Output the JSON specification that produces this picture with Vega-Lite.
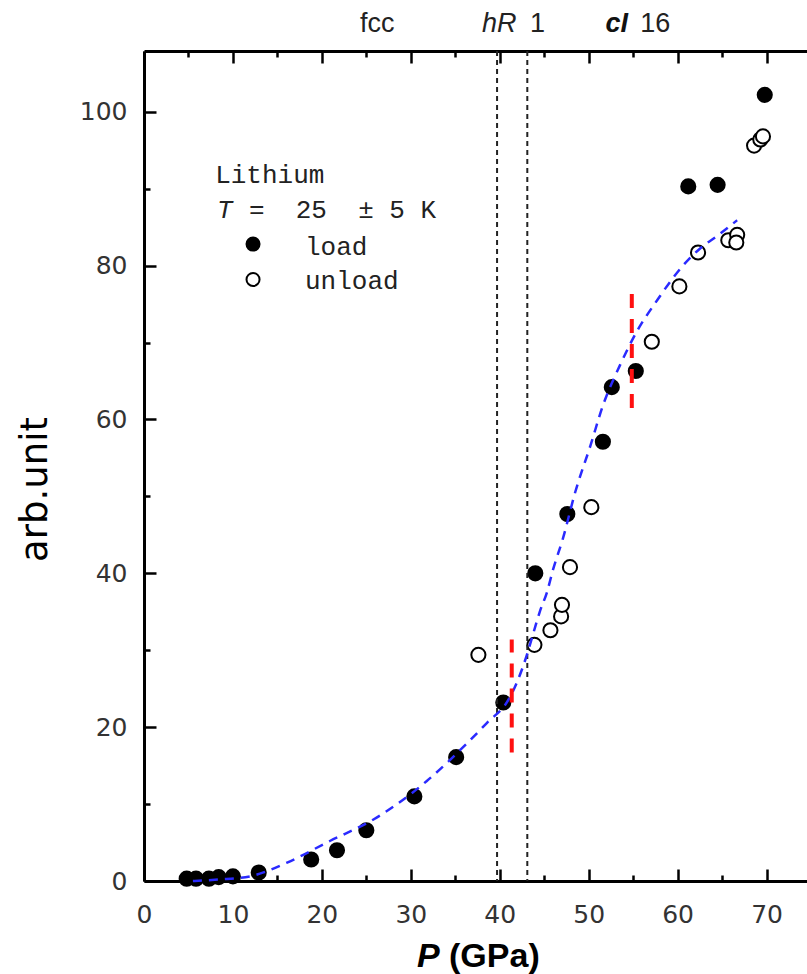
{
  "$schema": "https://vega.github.io/schema/vega-lite/v6.json",
  "width": 667,
  "height": 830,
  "autosize": {"type": "none"},
  "padding": {"left": 144, "top": 51, "right": 0, "bottom": 93},
  "background": "white",
  "config": {"view": {"stroke": null}, "axis": {"grid": false}},
  "datasets": {
    "pts": [
      {"P": 4.8, "v": 0.3, "series": "load"},
      {"P": 5.85, "v": 0.3, "series": "load"},
      {"P": 7.3, "v": 0.3, "series": "load"},
      {"P": 8.4, "v": 0.5, "series": "load"},
      {"P": 10.0, "v": 0.6, "series": "load"},
      {"P": 12.9, "v": 1.1, "series": "load"},
      {"P": 18.8, "v": 2.8, "series": "load"},
      {"P": 21.7, "v": 4.0, "series": "load"},
      {"P": 25.0, "v": 6.6, "series": "load"},
      {"P": 30.4, "v": 11.0, "series": "load"},
      {"P": 35.1, "v": 16.1, "series": "load"},
      {"P": 40.4, "v": 23.2, "series": "load"},
      {"P": 44.0, "v": 40.0, "series": "load"},
      {"P": 47.6, "v": 47.7, "series": "load"},
      {"P": 51.6, "v": 57.1, "series": "load"},
      {"P": 52.6, "v": 64.2, "series": "load"},
      {"P": 55.3, "v": 66.3, "series": "load"},
      {"P": 61.2, "v": 90.3, "series": "load"},
      {"P": 64.5, "v": 90.5, "series": "load"},
      {"P": 69.8, "v": 102.2, "series": "load"},
      {"P": 37.6, "v": 29.4, "series": "unload"},
      {"P": 43.9, "v": 30.7, "series": "unload"},
      {"P": 45.7, "v": 32.6, "series": "unload"},
      {"P": 46.9, "v": 34.4, "series": "unload"},
      {"P": 47.0, "v": 35.9, "series": "unload"},
      {"P": 47.9, "v": 40.8, "series": "unload"},
      {"P": 50.3, "v": 48.6, "series": "unload"},
      {"P": 57.1, "v": 70.1, "series": "unload"},
      {"P": 60.2, "v": 77.3, "series": "unload"},
      {"P": 62.3, "v": 81.7, "series": "unload"},
      {"P": 65.7, "v": 83.3, "series": "unload"},
      {"P": 66.7, "v": 84.0, "series": "unload"},
      {"P": 66.6, "v": 83.0, "series": "unload"},
      {"P": 68.6, "v": 95.6, "series": "unload"},
      {"P": 69.3, "v": 96.4, "series": "unload"},
      {"P": 69.6, "v": 96.8, "series": "unload"}
    ],
    "legsym": [
      {"P": 12.26, "v": 82.8, "series": "load"},
      {"P": 12.26, "v": 78.2, "series": "unload"}
    ],
    "fit": [
      {"P": 5.5, "v": 0.0},
      {"P": 8.5, "v": 0.2},
      {"P": 11.9, "v": 0.6},
      {"P": 16.1, "v": 2.4},
      {"P": 20.9, "v": 5.2},
      {"P": 25.8, "v": 8.0},
      {"P": 31.8, "v": 13.0},
      {"P": 36.4, "v": 18.0},
      {"P": 38.6, "v": 20.6},
      {"P": 41.0, "v": 23.6},
      {"P": 42.0, "v": 26.0},
      {"P": 43.0, "v": 29.2},
      {"P": 43.8, "v": 32.3},
      {"P": 44.5, "v": 35.0},
      {"P": 45.3, "v": 37.5},
      {"P": 46.0, "v": 40.5},
      {"P": 47.1, "v": 44.5},
      {"P": 48.5, "v": 50.6},
      {"P": 50.2, "v": 56.6},
      {"P": 51.6, "v": 61.8},
      {"P": 53.5, "v": 67.0},
      {"P": 55.4, "v": 71.4},
      {"P": 57.7, "v": 75.5},
      {"P": 60.6, "v": 80.0},
      {"P": 62.5, "v": 82.2},
      {"P": 64.5, "v": 83.9},
      {"P": 66.7, "v": 85.9}
    ],
    "red": [
      {"P": 41.35, "v1": 16.7, "v2": 31.4},
      {"P": 54.85, "v1": 61.5, "v2": 77.6}
    ],
    "phase": [{"P": 39.7}, {"P": 43.1}],
    "notes": [
      {"P": 24.3, "v": 110.4, "txt": "fcc", "kind": "top"},
      {"P": 38.0, "v": 110.4, "txt": "hR", "kind": "topital"},
      {"P": 43.4, "v": 110.4, "txt": "1", "kind": "top"},
      {"P": 51.9, "v": 110.4, "txt": "cI", "kind": "topbi"},
      {"P": 55.8, "v": 110.4, "txt": "16", "kind": "top"},
      {"P": 8.0, "v": 90.7, "txt": "Lithium", "kind": "mono"},
      {"P": 8.2, "v": 86.2, "txt": "T", "kind": "monoital"},
      {"P": 11.8, "v": 86.2, "txt": "=\u00a0\u00a025\u00a0\u00a0±\u00a05\u00a0K", "kind": "mono"},
      {"P": 18.1, "v": 81.4, "txt": "load", "kind": "mono"},
      {"P": 18.1, "v": 76.9, "txt": "unload", "kind": "mono"},
      {"P": 30.7, "v": -11.2, "txt": "P", "kind": "titlebi"},
      {"P": 34.3, "v": -11.2, "txt": "(GPa)", "kind": "titleb"}
    ]
  },
  "layer": [
    {
      "data": {"name": "pts"},
      "mark": {"type": "point", "shape": "circle", "size": 200, "filled": false, "strokeWidth": 2, "stroke": "black", "opacity": 1},
      "encoding": {
        "x": {
          "field": "P", "type": "quantitative",
          "scale": {"domain": [0, 75], "nice": false, "zero": false},
          "axis": {
            "orient": "bottom",
            "values": [0, 5, 10, 15, 20, 25, 30, 35, 40, 45, 50, 55, 60, 65, 70],
            "labelExpr": "datum.value % 10 === 0 ? datum.label : ''",
            "tickSize": {"condition": {"test": "datum.value % 10 === 0", "value": -12}, "value": -6},
            "tickWidth": 2.5, "tickColor": "black",
            "domainWidth": 3, "domainColor": "black",
            "labelFont": "DejaVu Sans", "labelFontSize": 25, "labelColor": "#333",
            "labelPadding": 33, "labelFlush": false, "labelOverlap": false,
            "title": null
          }
        },
        "y": {
          "field": "v", "type": "quantitative",
          "scale": {"domain": [0, 107.9], "nice": false, "zero": false},
          "axis": {
            "orient": "left",
            "values": [0, 10, 20, 30, 40, 50, 60, 70, 80, 90, 100],
            "labelExpr": "datum.value % 20 === 0 ? datum.label : ''",
            "tickSize": {"condition": {"test": "datum.value % 20 === 0", "value": -12}, "value": -6},
            "tickWidth": 2.5, "tickColor": "black",
            "domainWidth": 3, "domainColor": "black",
            "labelFont": "DejaVu Sans", "labelFontSize": 25, "labelColor": "#333",
            "labelPadding": 29, "labelFlush": false, "labelOverlap": false,
            "title": "arb.unit", "titleFont": "DejaVu Sans", "titleFontSize": 37,
            "titleFontWeight": "normal", "titleColor": "black",
            "titleAngle": 270, "titleX": -90, "titleY": 438, "titleAlign": "center", "titleBaseline": "bottom"
          }
        },
        "fill": {"field": "series", "type": "nominal", "scale": {"domain": ["load", "unload"], "range": ["black", "white"]}, "legend": null}
      }
    },
    {
      "data": {"name": "legsym"},
      "mark": {"type": "point", "shape": "circle", "size": 170, "filled": false, "strokeWidth": 2, "stroke": "black", "opacity": 1},
      "encoding": {
        "x": {"field": "P", "type": "quantitative", "axis": null},
        "y": {"field": "v", "type": "quantitative"},
        "fill": {"field": "series", "type": "nominal", "legend": null}
      }
    },
    {
      "data": {"name": "phase"},
      "mark": {"type": "rule", "color": "#222", "strokeWidth": 2, "strokeDash": [5, 4]},
      "encoding": {
        "x": {
          "field": "P", "type": "quantitative",
          "axis": {
            "orient": "top",
            "values": [0, 5, 10, 15, 20, 25, 30, 35, 40, 45, 50, 55, 60, 65, 70],
            "labels": false,
            "tickSize": {"condition": {"test": "datum.value % 10 === 0", "value": -12}, "value": -6},
            "tickWidth": 2.5, "tickColor": "black",
            "domainWidth": 3, "domainColor": "black",
            "title": null
          }
        }
      }
    },
    {
      "data": {"name": "fit"},
      "mark": {"type": "line", "color": "#2a2aff", "strokeWidth": 2.5, "strokeDash": [9, 7], "interpolate": "monotone"},
      "encoding": {
        "x": {"field": "P", "type": "quantitative", "axis": null},
        "y": {"field": "v", "type": "quantitative"}
      }
    },
    {
      "data": {"name": "red"},
      "mark": {"type": "rule", "color": "#ff1010", "strokeWidth": 4, "strokeDash": [14, 11]},
      "encoding": {
        "x": {"field": "P", "type": "quantitative", "axis": null},
        "y": {"field": "v1", "type": "quantitative"},
        "y2": {"field": "v2"}
      }
    },
    {
      "data": {"name": "notes"},
      "transform": [{"filter": "datum.kind === 'top'"}],
      "mark": {"type": "text", "align": "left", "baseline": "alphabetic", "font": "Liberation Sans", "fontSize": 27, "color": "#222"},
      "encoding": {
        "x": {"field": "P", "type": "quantitative", "axis": null},
        "y": {"field": "v", "type": "quantitative"},
        "text": {"field": "txt"}
      }
    },
    {
      "data": {"name": "notes"},
      "transform": [{"filter": "datum.kind === 'topital'"}],
      "mark": {"type": "text", "align": "left", "baseline": "alphabetic", "font": "Liberation Sans", "fontSize": 27, "fontStyle": "italic", "color": "#222"},
      "encoding": {
        "x": {"field": "P", "type": "quantitative", "axis": null},
        "y": {"field": "v", "type": "quantitative"},
        "text": {"field": "txt"}
      }
    },
    {
      "data": {"name": "notes"},
      "transform": [{"filter": "datum.kind === 'topbi'"}],
      "mark": {"type": "text", "align": "left", "baseline": "alphabetic", "font": "Liberation Sans", "fontSize": 27, "fontStyle": "italic", "fontWeight": "bold", "color": "#111"},
      "encoding": {
        "x": {"field": "P", "type": "quantitative", "axis": null},
        "y": {"field": "v", "type": "quantitative"},
        "text": {"field": "txt"}
      }
    },
    {
      "data": {"name": "notes"},
      "transform": [{"filter": "datum.kind === 'mono'"}],
      "mark": {"type": "text", "align": "left", "baseline": "alphabetic", "font": "Liberation Mono", "fontSize": 26, "color": "#222"},
      "encoding": {
        "x": {"field": "P", "type": "quantitative", "axis": null},
        "y": {"field": "v", "type": "quantitative"},
        "text": {"field": "txt"}
      }
    },
    {
      "data": {"name": "notes"},
      "transform": [{"filter": "datum.kind === 'monoital'"}],
      "mark": {"type": "text", "align": "left", "baseline": "alphabetic", "font": "Liberation Mono", "fontSize": 26, "fontStyle": "italic", "color": "#222"},
      "encoding": {
        "x": {"field": "P", "type": "quantitative", "axis": null},
        "y": {"field": "v", "type": "quantitative"},
        "text": {"field": "txt"}
      }
    },
    {
      "data": {"name": "notes"},
      "transform": [{"filter": "datum.kind === 'titlebi'"}],
      "mark": {"type": "text", "align": "left", "baseline": "alphabetic", "font": "Liberation Sans", "fontSize": 34, "fontStyle": "italic", "fontWeight": "bold", "color": "black"},
      "encoding": {
        "x": {"field": "P", "type": "quantitative", "axis": null},
        "y": {"field": "v", "type": "quantitative"},
        "text": {"field": "txt"}
      }
    },
    {
      "data": {"name": "notes"},
      "transform": [{"filter": "datum.kind === 'titleb'"}],
      "mark": {"type": "text", "align": "left", "baseline": "alphabetic", "font": "Liberation Sans", "fontSize": 34, "fontWeight": "bold", "color": "black"},
      "encoding": {
        "x": {"field": "P", "type": "quantitative", "axis": null},
        "y": {"field": "v", "type": "quantitative"},
        "text": {"field": "txt"}
      }
    }
  ],
  "resolve": {"axis": {"x": "independent"}}
}
